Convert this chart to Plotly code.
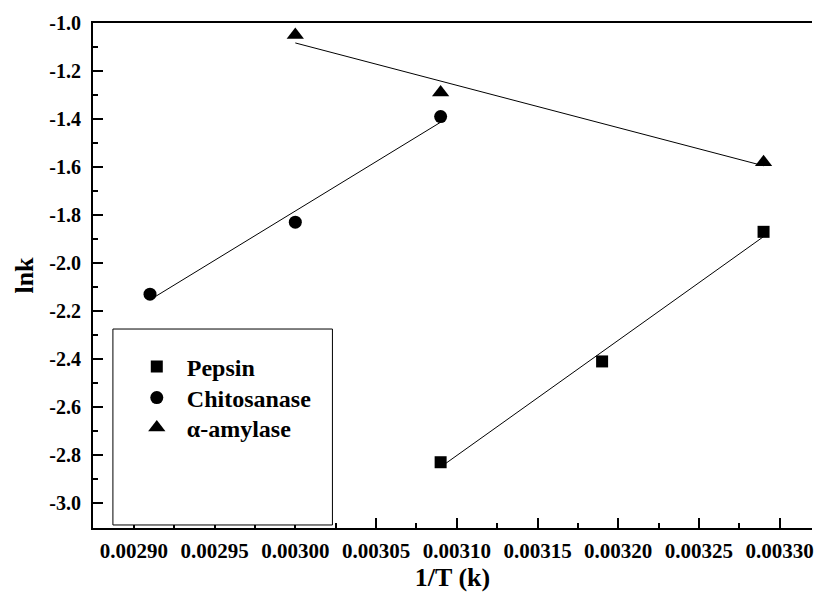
import numpy as np
import plotly.graph_objects as go

# ---- data ----
pepsin_x = [0.00309, 0.00319, 0.00329]
pepsin_y = [-2.83, -2.41, -1.87]
chito_x = [0.00291, 0.00300, 0.00309]
chito_y = [-2.13, -1.83, -1.39]
amyl_x = [0.00300, 0.00309, 0.00329]
amyl_y = [-1.05, -1.29, -1.58]

series_names = ["Pepsin", "Chitosanase", "\u03b1-amylase"]

x_tickvals = [0.00290, 0.00295, 0.00300, 0.00305, 0.00310, 0.00315, 0.00320, 0.00325, 0.00330]
x_ticktext = ["0.00290", "0.00295", "0.00300", "0.00305", "0.00310", "0.00315", "0.00320", "0.00325", "0.00330"]
x_minor = [0.002875, 0.002925, 0.002975, 0.003025, 0.003075, 0.003125, 0.003175, 0.003225, 0.003275, 0.003325]
y_tickvals = [-1.0, -1.2, -1.4, -1.6, -1.8, -2.0, -2.2, -2.4, -2.6, -2.8, -3.0]
y_ticktext = ["-1.0", "-1.2", "-1.4", "-1.6", "-1.8", "-2.0", "-2.2", "-2.4", "-2.6", "-2.8", "-3.0"]
y_minor = [-1.1, -1.3, -1.5, -1.7, -1.9, -2.1, -2.3, -2.5, -2.7, -2.9, -3.1]

FONT = "Liberation Serif, Times New Roman, serif"

fig = go.Figure()

def fit_line(xs, ys):
    k, b = np.polyfit(xs, ys, 1)
    xe = [min(xs), max(xs)]
    return xe, [k * v + b for v in xe]

series = [
    (pepsin_x, pepsin_y, "square", 12),
    (chito_x, chito_y, "circle", 13),
    (amyl_x, amyl_y, "triangle-up", 15),
]
legend_ids = ["legend", "legend2", "legend3"]
legend_ys = [0.3188, 0.2574, 0.198]

for (xs, ys, sym, sz), name in zip(series, series_names):
    lx, ly = fit_line(xs, ys)
    fig.add_trace(go.Scatter(x=lx, y=ly, mode="lines", line=dict(color="black", width=1),
                             showlegend=False, hoverinfo="skip"))

for (xs, ys, sym, sz), name, lid in zip(series, series_names, legend_ids):
    fig.add_trace(go.Scatter(x=xs, y=ys, mode="markers", name=name, legend=lid,
                             marker=dict(symbol=sym, size=sz, color="black")))

# legend frame (white filled box)
fig.add_shape(type="rect", xref="paper", yref="paper",
              x0=0.0277, x1=0.333, y0=0.006, y1=0.394,
              line=dict(color="black", width=1), fillcolor="white", layer="above")

legend_common = dict(x=0.047, xanchor="left", yanchor="middle",
                     bgcolor="rgba(0,0,0,0)", borderwidth=0,
                     font=dict(family=FONT, size=24, color="black", weight="bold"),
                     itemwidth=50)

fig.update_layout(
    width=814, height=596,
    margin=dict(l=93, r=0, t=23, b=68),
    paper_bgcolor="white", plot_bgcolor="white",
    font=dict(family=FONT, color="black"),
    showlegend=True,
    legend=dict(y=legend_ys[0], **legend_common),
    legend2=dict(y=legend_ys[1], **legend_common),
    legend3=dict(y=legend_ys[2], **legend_common),
    xaxis=dict(
        range=[0.0028747, 0.00332],
        tickvals=x_tickvals, ticktext=x_ticktext,
        ticks="inside", ticklen=10, tickwidth=2, tickcolor="black",
        minor=dict(tickvals=x_minor, ticks="inside", ticklen=5, tickwidth=2, tickcolor="black"),
        showline=True, linewidth=2, linecolor="black", mirror=True,
        showgrid=False, zeroline=False,
        tickfont=dict(family=FONT, size=21, color="black", weight="bold"),
        ticklabelstandoff=3, ticklabeloverflow="allow",
        title=dict(text="1/T (k)", font=dict(family=FONT, size=26, color="black", weight="bold"),
                   standoff=5),
    ),
    yaxis=dict(
        range=[-3.104, -1.0],
        tickvals=y_tickvals, ticktext=y_ticktext,
        ticks="inside", ticklen=10, tickwidth=2, tickcolor="black",
        minor=dict(tickvals=y_minor, ticks="inside", ticklen=5, tickwidth=2, tickcolor="black"),
        showline=True, linewidth=2, linecolor="black",
        showgrid=False, zeroline=False,
        tickfont=dict(family=FONT, size=20, color="black", weight="bold"),
        ticklabelstandoff=6,
        title=dict(text="lnk", font=dict(family=FONT, size=26, color="black", weight="bold"),
                   standoff=8),
    ),
)

fig.write_html("out.html")
